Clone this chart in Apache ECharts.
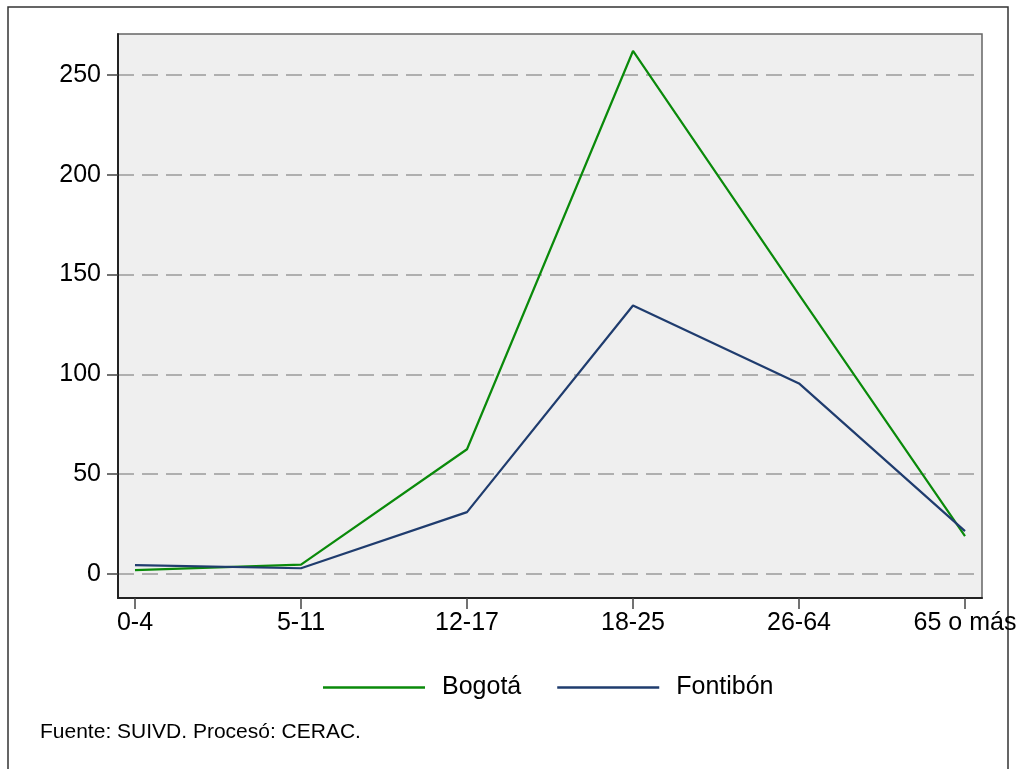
<!DOCTYPE html>
<html>
<head>
<meta charset="utf-8">
<script src="https://cdn.jsdelivr.net/npm/echarts@6/dist/echarts.min.js"></script>
<style>
html,body{margin:0;padding:0;background:#fff;}
#chart{width:1021px;height:769px;}
</style>
</head>
<body>
<div id="chart"></div>
<script>
var categories = ['0-4', '5-11', '12-17', '18-25', '26-64', '65 o más'];
var bogota = [2, 4.7, 62.5, 262, 140, 19];
var fontibon = [4.5, 2.9, 31, 134.5, 95.5, 21.5];
var yTicks = [0, 50, 100, 150, 200, 250];
var seriesNames = ['Bogotá', 'Fontibón'];
var footer = 'Fuente: SUIVD. Procesó: CERAC.';

var FONT = "'Liberation Sans', Arial, sans-serif";
var GREEN = '#0a8a0a', NAVY = '#1f3c6e';
function pts(arr) { return arr.map(function (v, i) { return [i, v]; }); }
var xIdx = categories.map(function (c, i) { return i; });

var chart = echarts.init(document.getElementById('chart'), null, {renderer: 'canvas'});
chart.setOption({
  backgroundColor: '#fff',
  animation: false,
  graphic: [
    {type: 'rect', shape: {x: 8, y: 7, width: 1000, height: 800}, style: {fill: 'none', stroke: '#333', lineWidth: 1.5}, z: -10},
    {type: 'text', left: 40, top: 722, style: {text: footer, font: '21px ' + FONT, fill: '#000'}}
  ],
  grid: {left: 118, top: 34, right: 39, bottom: 171, show: true, backgroundColor: '#efefef', borderColor: '#666', borderWidth: 1.5},
  legend: {
    show: true,
    data: [
      {name: seriesNames[0], itemStyle: {color: GREEN}},
      {name: seriesNames[1], itemStyle: {color: NAVY}}
    ],
    top: 670, left: 318, itemWidth: 102, itemHeight: 2.5, itemGap: 36,
    icon: 'rect',
    textStyle: {fontFamily: FONT, fontSize: 25, color: '#000', padding: [0, 0, 0, 12]}
  },
  xAxis: {
    type: 'value', min: -0.1024, max: 5.1024,
    axisLine: {show: true, onZero: false, lineStyle: {color: '#222', width: 2}},
    axisTick: {show: true, customValues: xIdx, length: 11, lineStyle: {color: '#444', width: 1.5}},
    axisLabel: {customValues: xIdx, margin: 13, fontFamily: FONT, fontSize: 25, color: '#000',
      formatter: function (v) { return categories[Math.round(v)]; }},
    splitLine: {show: false}
  },
  yAxis: {
    type: 'value', min: -12, max: 270.5,
    axisLine: {show: true, onZero: false, lineStyle: {color: '#222', width: 2}},
    axisTick: {show: true, customValues: yTicks, length: 11, lineStyle: {color: '#444', width: 1.5}},
    axisLabel: {customValues: yTicks, margin: 17, fontFamily: FONT, fontSize: 25, color: '#000'},
    splitLine: {show: true, lineStyle: {color: '#9a9a9a', width: 1.5, type: [16, 8]}}
  },
  series: [
    {name: seriesNames[0], type: 'line', data: pts(bogota), symbol: 'none', lineStyle: {color: GREEN, width: 2.2}, itemStyle: {color: GREEN}},
    {name: seriesNames[1], type: 'line', data: pts(fontibon), symbol: 'none', lineStyle: {color: NAVY, width: 2.2}, itemStyle: {color: NAVY}}
  ]
});
</script>
</body>
</html>
